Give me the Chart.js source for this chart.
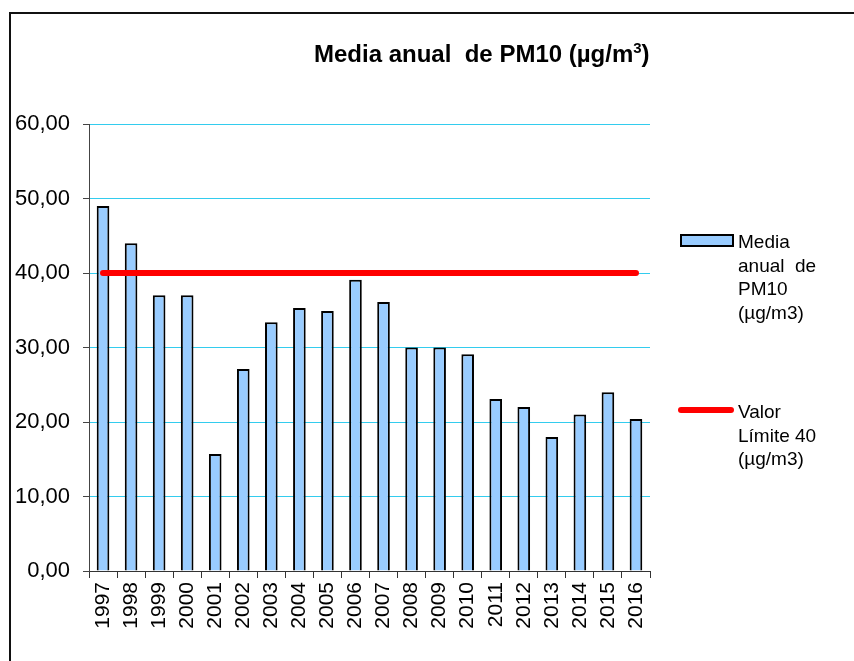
<!DOCTYPE html>
<html>
<head>
<meta charset="utf-8">
<script src="https://cdn.jsdelivr.net/npm/chart.js@4.4.0/dist/chart.umd.min.js"></script>
<style>
html, body { margin: 0; padding: 0; background: #fff; overflow: hidden; }
#frame { position: absolute; left: 9px; top: 12px; width: 900px; height: 700px;
    border-top: 2px solid #111; border-left: 2px solid #111; }
#wrap { position: absolute; left: 0; top: 0; width: 854px; height: 661px; }
</style>
</head>
<body>
<div id="frame"></div>
<div id="wrap"><canvas id="chart-1" width="854" height="661"></canvas></div>
<script>
const years = ['1997', '1998', '1999', '2000', '2001', '2002', '2003', '2004', '2005', '2006',
    '2007', '2008', '2009', '2010', '2011', '2012', '2013', '2014', '2015', '2016'];
const pm10 = [49, 44, 37, 37, 15.7, 27.1, 33.4, 35.3, 34.9, 39.1,
    36.1, 30, 30, 29.1, 23.1, 22, 18, 21, 24, 20.4];
const limitValue = [40, 40, 40, 40, 40, 40, 40, 40, 40, 40,
    40, 40, 40, 40, 40, 40, 40, 40, 40, 40];
const barName = ['Media', 'anual  de', 'PM10', '(µg/m3)'];
const lineName = ['Valor', 'Límite 40', '(µg/m3)'];
const titleMain = 'Media anual  de PM10 (µg/m';
const titleSup = '3';
const titleEnd = ')';

const FONT = 'Arial, "Liberation Sans", sans-serif';

// title + multi-line legend drawn by hand, Chart.js legend can't wrap
const decor = {
    id: 'decor',
    afterDraw(chart) {
        const c = chart.ctx;
        c.save();
        c.fillStyle = '#000';
        c.textBaseline = 'alphabetic';
        c.textAlign = 'left';

        // title
        let x = 314;
        c.font = 'bold 24px ' + FONT;
        c.fillText(titleMain, x, 62);
        x += c.measureText(titleMain).width;
        c.font = 'bold 15px ' + FONT;
        c.fillText(titleSup, x, 53);
        x += c.measureText(titleSup).width;
        c.font = 'bold 24px ' + FONT;
        c.fillText(titleEnd, x, 62);

        // legend
        const bar = chart.data.datasets[1];
        const line = chart.data.datasets[0];
        c.fillStyle = bar.backgroundColor;
        c.fillRect(681, 235, 52, 11);
        c.strokeStyle = bar.borderColor;
        c.lineWidth = 2;
        c.strokeRect(681, 235, 52, 11);

        c.strokeStyle = line.borderColor;
        c.lineWidth = 6;
        c.lineCap = 'round';
        c.beginPath();
        c.moveTo(681, 410);
        c.lineTo(731, 410);
        c.stroke();

        c.fillStyle = '#000';
        c.font = '19px ' + FONT;
        barName.forEach((t, i) => c.fillText(t, 738, 248 + i * 23.5));
        lineName.forEach((t, i) => c.fillText(t, 738, 418 + i * 23.5));
        c.restore();
    }
};

new Chart(document.getElementById('chart-1'), {
    data: {
        labels: years,
        datasets: [
            {
                type: 'line',
                label: lineName.join(' '),
                data: limitValue,
                borderColor: '#ff0000',
                borderWidth: 6,
                borderCapStyle: 'round',
                pointRadius: 0,
                order: 0
            },
            {
                type: 'bar',
                label: barName.join(' '),
                data: pm10,
                backgroundColor: '#99ccff',
                borderColor: '#000',
                borderWidth: 2,
                barPercentage: 0.45,
                categoryPercentage: 1,
                order: 1
            }
        ]
    },
    options: {
        responsive: false,
        animation: false,
        layout: { padding: { top: 124, right: 204, bottom: 0, left: 0 } },
        plugins: {
            legend: { display: false },
            title: { display: false },
            tooltip: { enabled: false }
        },
        scales: {
            x: {
                grid: { offset: true, drawOnChartArea: false, tickLength: 7, tickColor: '#333' },
                border: { color: '#333', width: 1 },
                ticks: { autoSkip: false, minRotation: 90, maxRotation: 90, color: '#000', padding: 4,
                    font: { family: FONT, size: 21 } },
                afterFit: s => { s.height = 90; }
            },
            y: {
                min: 0,
                max: 60,
                grid: { color: '#33ccee', tickColor: '#444', tickLength: 6 },
                border: { color: '#444', width: 1 },
                ticks: { stepSize: 10, color: '#000', padding: 13,
                    font: { family: FONT, size: 22 },
                    callback: v => v.toFixed(2).replace('.', ',') },
                afterFit: s => { s.width = 89; }
            }
        }
    },
    plugins: [decor]
});
</script>
</body>
</html>
